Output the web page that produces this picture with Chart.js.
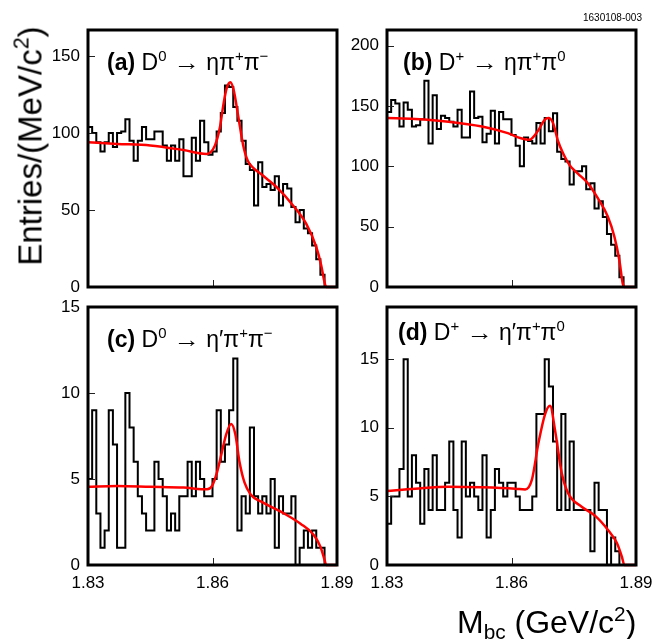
<!DOCTYPE html>
<html><head><meta charset="utf-8">
<script src="https://cdn.jsdelivr.net/npm/chart.js@4.4.1/dist/chart.umd.min.js"></script>
<style>
html,body{margin:0;padding:0;background:#fff;}
body{width:669px;height:639px;position:relative;overflow:hidden;font-family:'Liberation Sans',Arial,Helvetica,sans-serif;color:#000;}
canvas{position:absolute;}
.lbl{position:absolute;white-space:nowrap;font-size:23px;line-height:1;z-index:5;}
.sup{font-size:65%;position:relative;top:-0.6em;}
.sub{font-size:65%;position:relative;top:0.3em;}
.arr{display:inline-block;transform:scaleX(1.15);margin:0 2px;}
#ytitle{position:absolute;left:30px;top:146px;transform:translate(-50%,-50%) rotate(-90deg);font-size:33px;white-space:nowrap;line-height:1;z-index:5;}
#xtitle{position:absolute;left:457px;top:606px;font-size:32px;white-space:nowrap;line-height:1;z-index:5;}
#fid{position:absolute;left:583px;top:13px;font-size:10px;white-space:nowrap;line-height:1;z-index:5;}
</style></head>
<body>
<canvas id="pa" width="324" height="273" style="left:38px;top:20px"></canvas>
<canvas id="pb" width="324" height="273" style="left:337px;top:20px"></canvas>
<canvas id="pc" width="324" height="303" style="left:38px;top:297px"></canvas>
<canvas id="pd" width="324" height="303" style="left:337px;top:297px"></canvas>

<div id="fid">1630108-003</div>
<div id="ytitle">Entries/(MeV/c<span class="sup">2</span>)</div>
<div id="xtitle">M<span class="sub">bc</span> (GeV/c<span class="sup">2</span>)</div>
<div class="lbl" style="left:107px;top:51px"><b>(a)</b> D<span class="sup">0</span> <span class="arr">→</span> ηπ<span class="sup">+</span>π<span class="sup">−</span></div>
<div class="lbl" style="left:403px;top:51px"><b>(b)</b> D<span class="sup">+</span> <span class="arr">→</span> ηπ<span class="sup">+</span>π<span class="sup">0</span></div>
<div class="lbl" style="left:107px;top:328px"><b>(c)</b> D<span class="sup">0</span> <span class="arr">→</span> η′π<span class="sup">+</span>π<span class="sup">−</span></div>
<div class="lbl" style="left:398px;top:321px"><b>(d)</b> D<span class="sup">+</span> <span class="arr">→</span> η′π<span class="sup">+</span>π<span class="sup">0</span></div>

<script>
// Bin edges of M_bc (GeV/c^2), 1 MeV bins
const mbcEdges = [1.830,1.831,1.832,1.833,1.834,1.835,1.836,1.837,1.838,1.839,
  1.840,1.841,1.842,1.843,1.844,1.845,1.846,1.847,1.848,1.849,
  1.850,1.851,1.852,1.853,1.854,1.855,1.856,1.857,1.858,1.859,
  1.860,1.861,1.862,1.863,1.864,1.865,1.866,1.867,1.868,1.869,
  1.870,1.871,1.872,1.873,1.874,1.875,1.876,1.877,1.878,1.879,
  1.880,1.881,1.882,1.883,1.884,1.885,1.886,1.887,1.888,1.889,1.890];

// Entries per bin
const countsA = [104,100,94,88,94,100,91,100,101,109,95,82,95,104,96,96,101,101,92,82,
  92,82,96,72,72,97,82,108,94,86,88,101,113,131,130,117,108,95,80,76,
  53,81,65,67,63,72,53,67,64,52,42,50,38,35,27,18,8,0,0,0];
const countsB = [145,155,152,133,153,147,133,134,139,171,119,159,131,142,140,137,133,147,124,124,
  162,140,141,120,127,146,119,145,139,139,126,117,100,124,121,119,136,119,140,129,
  144,112,106,104,85,96,96,100,81,86,65,71,58,44,35,26,8,0,0,0];
const countsC = [5,9,3,1,2,9,7,1,1,10,8,6,4,3,2,2,6,5,4,2,
  3,2,4,4,6,4,6,5,4,4,5,9,6,7,9,12,2,4,3,8,
  4,3,4,3,5,1,4,3,3,4,0,1,2,1,2,1,1,0,0,0];
const countsD = [3,5,5,7,15,5,8,6,3,7,4,8,4,4,6,9,4,2,9,5,
  6,5,4,8,2,4,7,6,5,6,6,5,4,4,4,5,11,11,15,13,
  9,4,11,4,9,4,4,4,4,1,6,4,4,0,2,1,0,0,0,0];

// Fit curves
const fitXA = [1.830,1.837,1.845,1.853,1.8585,1.8595,1.8606,1.8618,1.8626,1.8634,1.8643,1.8651,1.8662,1.8674,1.8685,1.870,1.8714,1.873,1.8754,1.8794,1.8826,1.885,1.8862,1.887,1.8874,1.890];
const fitYA = [94,93,92,89,86.5,87.5,92,104,118,129,133,128,111,92,82,77,74,70.5,65,53,41,26,14,3,0,0];
const fitXB = [1.830,1.8368,1.8448,1.8529,1.8591,1.8623,1.8643,1.8663,1.868,1.8689,1.870,1.8712,1.8724,1.874,1.876,1.8784,1.8808,1.8832,1.8848,1.886,1.8868,1.8872,1.890];
const fitYB = [140,139.2,137,133,127.5,123.3,122,129,138.6,140,136,121,111,101,94,86,73.6,58.5,41.7,22,3,0,0];
const fitXC = [1.830,1.837,1.845,1.853,1.8587,1.8599,1.8611,1.8622,1.8633,1.8645,1.8655,1.8665,1.8677,1.8692,1.8724,1.8772,1.8812,1.8844,1.886,1.887,1.8874,1.890];
const fitYC = [4.55,4.6,4.55,4.5,4.4,4.6,5.4,6.5,7.6,8.2,7.6,6.0,4.8,4.1,3.6,3.0,2.4,1.75,1.07,0.3,0,0];
const fitXD = [1.830,1.8368,1.8448,1.8529,1.8609,1.8633,1.8649,1.8665,1.8681,1.8693,1.8705,1.8721,1.8737,1.8769,1.8801,1.8834,1.8854,1.8866,1.8872,1.890];
const fitYD = [5.4,5.56,5.7,5.66,5.56,5.5,6.2,8.9,11.0,11.6,9.8,6.7,5.2,4.25,3.6,2.5,1.6,0.6,0,0];

// Tick labels
const xTicks = [1.83, 1.86, 1.89];
const yTicksA = [0, 50, 100, 150];
const yTicksB = [0, 50, 100, 150, 200];
const yTicksC = [0, 5, 10, 15];
const yTicksD = [0, 5, 10, 15];

const FONT = {family: "'Liberation Sans', Arial, Helvetica, sans-serif", size: 17};

const frameTicks = {
  id: 'frameTicks',
  afterDatasetsDraw(chart, args, opts) {
    const ctx = chart.ctx, a = chart.chartArea, x = chart.scales.x, y = chart.scales.y;
    ctx.save();
    ctx.strokeStyle = '#222';
    ctx.lineWidth = 1;
    ctx.beginPath();
    opts.yt.forEach(v => {
      const py = Math.round(y.getPixelForValue(v)) + 0.5;
      if (py > a.top + 3 && py < a.bottom - 3) { ctx.moveTo(a.left, py); ctx.lineTo(a.left + 7, py); }
    });
    opts.xt.forEach(v => {
      const px = Math.round(x.getPixelForValue(v)) + 0.5;
      if (px > a.left + 3 && px < a.right - 3) { ctx.moveTo(px, a.bottom); ctx.lineTo(px, a.bottom - 7); }
    });
    ctx.stroke();
    ctx.strokeStyle = '#000';
    ctx.lineWidth = 3;
    ctx.strokeRect(a.left, a.top, a.right - a.left, a.bottom - a.top);
    ctx.restore();
  }
};

function makePanel(id, counts, fitX, fitY, yMax, yTicks, showX) {
  const hist = counts.map((v, i) => ({x: mbcEdges[i], y: v}));
  hist.push({x: mbcEdges[counts.length], y: counts[counts.length - 1]});
  const fit = fitX.map((xv, i) => ({x: xv, y: fitY[i]}));
  new Chart(document.getElementById(id), {
    type: 'line',
    data: {datasets: [
      {data: fit, borderColor: '#ff0000', borderWidth: 2.5, pointRadius: 0, fill: false,
       cubicInterpolationMode: 'monotone', clip: 4},
      {data: hist, borderColor: '#000', borderWidth: 2, pointRadius: 0, fill: false,
       stepped: true, clip: 4}
    ]},
    options: {
      responsive: false, animation: false, devicePixelRatio: 1,
      layout: {padding: {top: 10, right: 25, left: 0, bottom: 0}},
      plugins: {legend: {display: false}, tooltip: {enabled: false},
                frameTicks: {yt: yTicks, xt: xTicks}},
      scales: {
        x: {type: 'linear', min: 1.83, max: 1.89,
            grid: {display: false, drawTicks: false}, border: {display: false},
            afterBuildTicks: s => { s.ticks = xTicks.map(v => ({value: v})); },
            afterFit: s => { s.height = showX ? 35 : 6; s.paddingLeft = 0; s.paddingRight = 0; },
            ticks: {display: showX, padding: 8, font: FONT, color: '#000', maxRotation: 0,
                    autoSkip: false, callback: v => Number(v).toFixed(2)}},
        y: {type: 'linear', min: 0, max: yMax,
            grid: {display: false, drawTicks: false}, border: {display: false},
            afterBuildTicks: s => { s.ticks = yTicks.map(v => ({value: v})); },
            afterFit: s => { s.width = 50; s.paddingTop = 0; s.paddingBottom = 0; },
            ticks: {padding: 8, font: FONT, color: '#000', autoSkip: false,
                    callback: v => String(v)}}
      }
    },
    plugins: [frameTicks]
  });
}

makePanel('pa', countsA, fitXA, fitYA, 167, yTicksA, false);
makePanel('pb', countsB, fitXB, fitYB, 213, yTicksB, false);
makePanel('pc', countsC, fitXC, fitYC, 15, yTicksC, true);
makePanel('pd', countsD, fitXD, fitYD, 18.8, yTicksD, true);
</script>
</body></html>
